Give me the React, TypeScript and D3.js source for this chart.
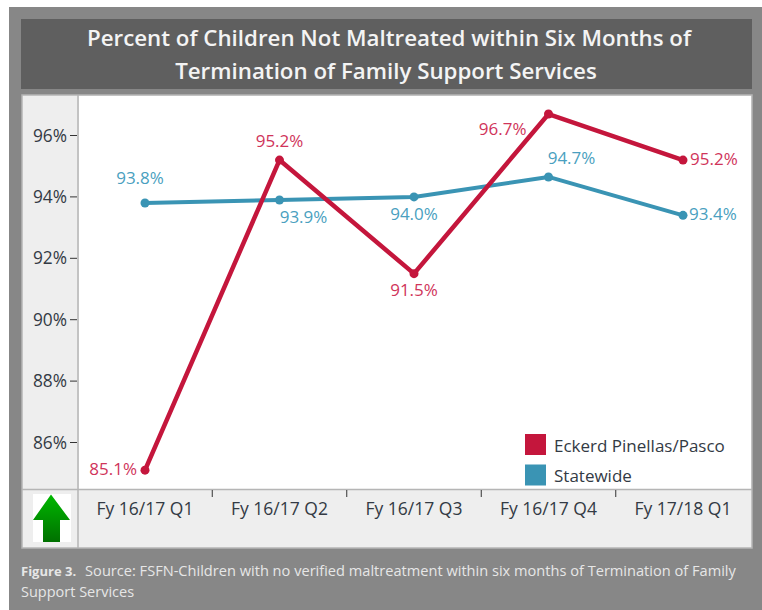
import React from "react";
import * as d3 from "d3";

const categories = ["Fy 16/17 Q1", "Fy 16/17 Q2", "Fy 16/17 Q3", "Fy 16/17 Q4", "Fy 17/18 Q1"];
const eckerd = [85.1, 95.2, 91.5, 96.7, 95.2];
const statewide = [93.8, 93.9, 94.0, 94.65, 93.4];
const eckerdLabels = ["85.1%", "95.2%", "91.5%", "96.7%", "95.2%"];
const statewideLabels = ["93.8%", "93.9%", "94.0%", "94.7%", "93.4%"];
const yTicks = [86, 88, 90, 92, 94, 96];
const eckerdLabelOffsets: [number, number, string][] = [
  [-8, 5, "end"], [0, -13, "middle"], [0, 22, "middle"], [-22, 21, "end"], [7, 5, "start"],
];
const stateLabelOffsets: [number, number, string][] = [
  [-5, -19, "middle"], [24, 23, "middle"], [0, 23, "middle"], [23, -13, "middle"], [6, 5, "start"],
];
const titleLines = ["Percent of Children Not Maltreated within Six Months of", "Termination of Family Support Services"];
const captionLines = ["Source: FSFN-Children with no verified maltreatment within six months of Termination of Family", "Support Services"];
const legend = [
  { label: "Eckerd Pinellas/Pasco", color: "#c4163c" },
  { label: "Statewide", color: "#3a94b4" },
];

const FONT = "'Open Sans', 'Noto Sans', sans-serif";
const RED = "#c4163c";
const BLUE = "#3a94b4";
const RED_TEXT = "#d0345a";
const BLUE_TEXT = "#4a9fc0";
const INK = "#333a44";

export default function App() {
  const x = d3.scalePoint<string>().domain(categories).range([145, 683]);
  const y = d3.scaleLinear().domain([86, 96]).range([442.5, 135.5]);
  const line = d3.line<number>().x((_, i) => x(categories[i]) as number).y((d) => y(d));
  const step = x.step();

  return (
    <svg width={762} height={610} style={{ position: "absolute", left: 0, top: 0, background: "#fff" }}>
      <defs>
        <linearGradient id="arrow" x1="0" y1="0" x2="0" y2="1">
          <stop offset="0" stopColor="#00b800" />
          <stop offset="1" stopColor="#007000" />
        </linearGradient>
      </defs>
      <rect x={9} y={7} width={753} height={603} fill="#878787" />
      <rect x={21} y={19} width={731} height={70} fill="#5f5f5f" />
      {titleLines.map((t, i) => (
        <text key={t} x={389 - i * 3} y={46 + i * 33} textAnchor="middle" fontFamily={FONT} fontSize={22.3} fontWeight={600} fill="#f4f4f4">{t}</text>
      ))}

      <rect x={22} y={95} width={730} height={453} fill="#eeeeee" stroke="#b5b5b5" strokeWidth={1.5} />
      <rect x={79} y={96} width={672} height={393} fill="#ffffff" />
      <line x1={78} x2={78} y1={95} y2={548} stroke="#b5b5b5" strokeWidth={1.5} />
      <line x1={22} x2={752} y1={489.5} y2={489.5} stroke="#b5b5b5" strokeWidth={1.5} />

      {yTicks.map((t) => (
        <g key={t}>
          <line x1={70} x2={77} y1={y(t)} y2={y(t)} stroke="#333" strokeWidth={1} />
          <text x={67} y={y(t) + 6} textAnchor="end" fontFamily={FONT} fontSize={17.3} fill={INK}>{t}%</text>
        </g>
      ))}
      {categories.map((c, i) => (
        <g key={c}>
          <text x={x(c)} y={515} textAnchor="middle" fontFamily={FONT} fontSize={17.5} fill={INK}>{c}</text>
          {i > 0 && (
            <line x1={(x(c) as number) - step / 2} x2={(x(c) as number) - step / 2} y1={490} y2={497} stroke="#333" strokeWidth={1} />
          )}
        </g>
      ))}

      <path d={line(statewide) ?? ""} fill="none" stroke={BLUE} strokeWidth={4} strokeLinejoin="round" />
      <path d={line(eckerd) ?? ""} fill="none" stroke={RED} strokeWidth={4.5} strokeLinejoin="round" />
      {statewide.map((v, i) => <circle key={i} cx={x(categories[i])} cy={y(v)} r={4.5} fill={BLUE} />)}
      {eckerd.map((v, i) => <circle key={i} cx={x(categories[i])} cy={y(v)} r={4.5} fill={RED} />)}

      {statewide.map((v, i) => (
        <text key={i} x={(x(categories[i]) as number) + stateLabelOffsets[i][0]} y={y(v) + stateLabelOffsets[i][1]}
          textAnchor={stateLabelOffsets[i][2] as any} fontFamily={FONT} fontSize={17} fill={BLUE_TEXT}>{statewideLabels[i]}</text>
      ))}
      {eckerd.map((v, i) => (
        <text key={i} x={(x(categories[i]) as number) + eckerdLabelOffsets[i][0]} y={y(v) + eckerdLabelOffsets[i][1]}
          textAnchor={eckerdLabelOffsets[i][2] as any} fontFamily={FONT} fontSize={17} fill={RED_TEXT}>{eckerdLabels[i]}</text>
      ))}

      {legend.map((l, i) => (
        <g key={l.label}>
          <rect x={525} y={434 + i * 30.5} width={21} height={21} fill={l.color} />
          <text x={554} y={452 + i * 30} fontFamily={FONT} fontSize={17} fill={INK}>{l.label}</text>
        </g>
      ))}

      <rect x={33} y={494} width={38} height={48} fill="#ffffff" />
      <path d="M51 494.5 L70 520 L60 520 L60 542 L43 542 L43 520 L33 520 Z" fill="url(#arrow)" />

      <text x={21} y={576} fontFamily={FONT} fontSize={13} fill="#e6e6e6">
        <tspan fontWeight={700}>Figure 3.</tspan>
        <tspan dx={9} fontSize={14.6}>{captionLines[0]}</tspan>
      </text>
      <text x={21} y={597} fontFamily={FONT} fontSize={14.5} fill="#e6e6e6">{captionLines[1]}</text>
    </svg>
  );
}
